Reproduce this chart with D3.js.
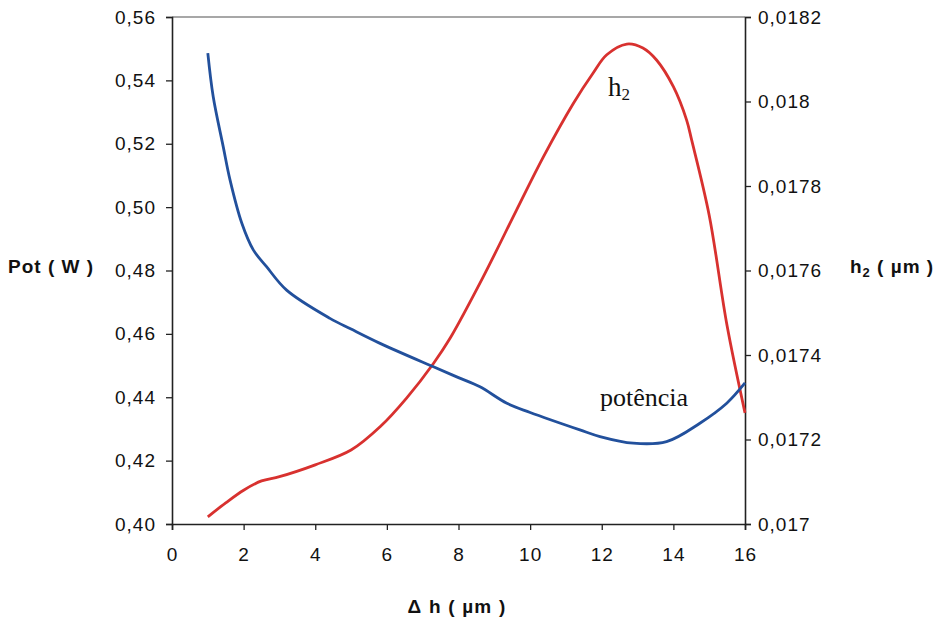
<!DOCTYPE html>
<html>
<head>
<meta charset="utf-8">
<script src="https://cdn.jsdelivr.net/npm/d3@7"></script>
<style>
  html, body { margin: 0; padding: 0; background: #fff; }
  svg { display: block; }
  .tick text { font-family: Arial, "Liberation Sans", sans-serif; font-size: 19px; letter-spacing: 1px; fill: #111; }
</style>
</head>
<body>
<svg id="chart" width="940" height="622"></svg>
<script>
// Δh values (µm) for the power curve
const dh = [1, 1.15, 1.43, 1.62, 1.95, 2.27, 2.64, 3.2, 4.41, 5, 5.81, 7.3, 8, 8.6, 9.35, 10, 11.39, 11.95, 12.88, 13.81, 14.74, 15.49, 16];
// Power (W) at each Δh
const pot = [0.5486, 0.5349, 0.5191, 0.5086, 0.4949, 0.4865, 0.4812, 0.4738, 0.4649, 0.4615, 0.4570, 0.4496, 0.4462, 0.4433, 0.4381, 0.4352, 0.4297, 0.4276, 0.4255, 0.4260, 0.4318, 0.4381, 0.4445];

// Δh values (µm) for the h2 curve
const dhH2 = [1, 1.5, 2, 2.5, 3, 4, 5, 5.81, 6.55, 7.3, 7.76, 8.69, 9.62, 10.37, 11.21, 11.76, 12.14, 12.7, 13.15, 13.53, 14, 14.37, 14.51, 15, 15.5, 16];
// h2 (µm)
const h2 = [0.017017, 0.01705, 0.01708, 0.017102, 0.017112, 0.01714, 0.017175, 0.01723, 0.017298, 0.01738, 0.017439, 0.017585, 0.017743, 0.017869, 0.017996, 0.0180675, 0.0181106, 0.018136, 0.0181266, 0.0180982, 0.018035, 0.017956, 0.017909, 0.017731, 0.017469, 0.017263];

const xTicks = [0, 2, 4, 6, 8, 10, 12, 14, 16];
const yLeftTicks = [0.40, 0.42, 0.44, 0.46, 0.48, 0.50, 0.52, 0.54, 0.56];
const yRightTicks = [0.017, 0.0172, 0.0174, 0.0176, 0.0178, 0.018, 0.0182];

const svg = d3.select("#chart");
const plotLeft = 172, plotRight = 745, plotTop = 17, plotBottom = 524;

const x = d3.scaleLinear().domain([0, 16]).range([plotLeft, plotRight]);
const yL = d3.scaleLinear().domain([0.40, 0.56]).range([plotBottom, plotTop]);
const yR = d3.scaleLinear().domain([0.017, 0.0182]).range([plotBottom, plotTop]);

const comma = v => String(v).replace(".", ",");
const fmtLeft = v => d3.format(".2f")(v).replace(".", ",");

// top frame line
svg.append("line")
  .attr("x1", plotLeft).attr("x2", plotRight).attr("y1", plotTop).attr("y2", plotTop)
  .attr("stroke", "#8a8a8a").attr("stroke-width", 1.3);

// axes
const gx = svg.append("g").attr("transform", `translate(0,${plotBottom})`)
  .call(d3.axisBottom(x).tickValues(xTicks).tickSize(6).tickPadding(18).tickFormat(d => d));
const gl = svg.append("g").attr("transform", `translate(${plotLeft},0)`)
  .call(d3.axisLeft(yL).tickValues(yLeftTicks).tickSize(6).tickPadding(10).tickFormat(fmtLeft));
const gr = svg.append("g").attr("transform", `translate(${plotRight},0)`)
  .call(d3.axisRight(yR).tickValues(yRightTicks).tickSize(6).tickPadding(7).tickFormat(comma));

[gx, gl, gr].forEach(g => {
  g.select(".domain").attr("stroke", "#222").attr("stroke-width", 1.6);
  g.selectAll(".tick line").attr("stroke", "#222").attr("stroke-width", 1.3);
});

// curves
const linePot = d3.line().x((d, i) => x(dh[i])).y(d => yL(d)).curve(d3.curveCatmullRom.alpha(0.5));
const lineH2 = d3.line().x((d, i) => x(dhH2[i])).y(d => yR(d)).curve(d3.curveCatmullRom.alpha(0.5));

svg.append("path").datum(h2)
  .attr("d", lineH2).attr("fill", "none")
  .attr("stroke", "#d8312f").attr("stroke-width", 2.8).attr("stroke-linejoin", "round");

svg.append("path").datum(pot)
  .attr("d", linePot).attr("fill", "none")
  .attr("stroke", "#22509c").attr("stroke-width", 2.8).attr("stroke-linejoin", "round");

// series labels
const serif = "'Liberation Serif', 'Times New Roman', serif";
const h2Label = svg.append("text").attr("x", 608).attr("y", 96)
  .attr("font-family", serif).attr("font-size", 27).attr("fill", "#111");
h2Label.append("tspan").text("h");
h2Label.append("tspan").attr("font-size", 17).attr("dy", 4).text("2");

svg.append("text").attr("x", 600).attr("y", 406)
  .attr("font-family", serif).attr("font-size", 26).attr("fill", "#111")
  .text("potência");

// axis titles
const sans = "Arial, 'Liberation Sans', sans-serif";
svg.append("text").attr("x", 8).attr("y", 273)
  .attr("font-family", sans).attr("font-size", 19).attr("font-weight", "bold")
  .attr("letter-spacing", 1).attr("fill", "#111")
  .text("Pot ( W )");

const rt = svg.append("text").attr("x", 850).attr("y", 273)
  .attr("font-family", sans).attr("font-size", 19).attr("font-weight", "bold")
  .attr("letter-spacing", 1).attr("fill", "#111");
rt.append("tspan").text("h");
rt.append("tspan").attr("font-size", 13).attr("dy", 4).text("2");
rt.append("tspan").attr("dy", -4).text(" ( µm )");

svg.append("text").attr("x", 457).attr("y", 613).attr("text-anchor", "middle")
  .attr("font-family", sans).attr("font-size", 19).attr("font-weight", "bold")
  .attr("letter-spacing", 1.2).attr("fill", "#111")
  .text("Δ h ( µm )");
</script>
</body>
</html>
